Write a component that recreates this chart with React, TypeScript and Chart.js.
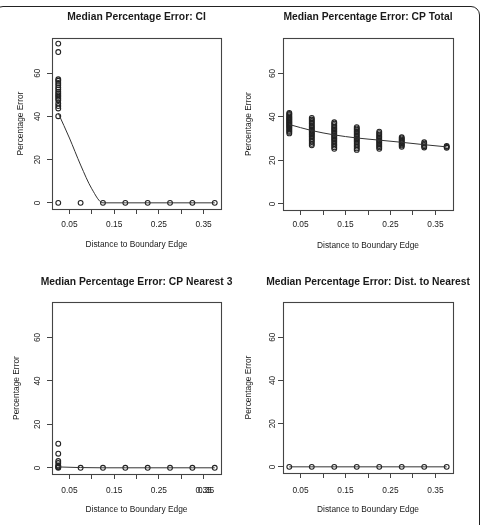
import React, { useEffect, useRef } from "react";
import { Chart, registerables } from "chart.js";

Chart.register(...registerables);

// ---------- data ----------
const distances = [0.025, 0.075, 0.125, 0.175, 0.225, 0.275, 0.325, 0.375];
const xTickValues = [0.05, 0.1, 0.15, 0.2, 0.25, 0.3, 0.35];
const xTickLabels = ["0.05", "", "0.15", "", "0.25", "", "0.35"];
const yTickValues = [0, 20, 40, 60];
const yTickLabels = ["0", "20", "40", "60"];

const titles = [
  "Median Percentage Error: CI",
  "Median Percentage Error: CP Total",
  "Median Percentage Error: CP Nearest 3",
  "Median Percentage Error: Dist. to Nearest",
];
const xAxisTitle = "Distance to Boundary Edge";
const yAxisTitle = "Percentage Error";

// observed values per distance bin
const ciValues = [
  [0, 40.1, 43.7, 44.8, 46, 47.5, 48.3, 49.1, 49.8, 50.6, 51.4, 52.5, 53.4, 54.5, 55.5, 56.5, 57.2, 69.8, 73.7],
  [0], [0], [0], [0], [0], [0], [0],
];
const cpTotalValues = [
  [32.4, 33.1, 33.6, 34.2, 34.8, 35.3, 35.7, 36.2, 36.6, 37.1, 37.5, 37.9, 38.4, 38.8, 39.3, 39.7, 40.2, 40.8, 41.3, 41.8],
  [26.9, 27.6, 28.4, 29.1, 29.8, 30.6, 31.2, 31.9, 32.5, 33.1, 33.6, 34.2, 34.9, 35.5, 36.1, 36.8, 37.4, 38.1, 38.8, 39.5],
  [25.3, 26, 26.8, 27.5, 28.3, 29, 29.7, 30.3, 31, 31.6, 32.2, 32.9, 33.5, 34.2, 34.8, 35.5, 36.2, 36.9, 37.5],
  [24.8, 25.5, 26.3, 27, 27.7, 28.4, 29, 29.6, 30.2, 30.8, 31.5, 32.1, 32.8, 33.4, 34.1, 34.7, 35.3],
  [25.3, 26, 26.6, 27.3, 28, 28.6, 29.2, 29.8, 30.5, 31.1, 31.8, 32.5, 33.2],
  [26.2, 26.8, 27.3, 27.9, 28.4, 29, 29.5, 30.1, 30.6],
  [25.9, 26.5, 27.1, 27.7, 28.3],
  [25.8, 26.2, 26.6],
];
const cpNearest3Values = [
  [0, 0.3, 0.6, 1.1, 2.2, 3.1, 6.5, 11.1],
  [0], [0], [0], [0], [0], [0], [0],
];
const distNearestValues = [[0], [0], [0], [0], [0], [0], [0], [0]];

// smoothed fit lines
const ciSmoothX = [0.025, 0.05, 0.075, 0.1, 0.125, 0.175, 0.225, 0.275, 0.325, 0.375];
const ciSmoothY = [41.5, 30, 17.5, 6.5, 0, 0, 0, 0, 0, 0];
const cpTotalSmoothY = [36.5, 33.7, 31.7, 30.3, 29.3, 28.3, 27.2, 26.2];
const cpNearest3SmoothY = [0.4, 0.1, 0, 0, 0, 0, 0, 0];
const distNearestSmoothY = [0, 0, 0, 0, 0, 0, 0, 0];

// overprinted tick label seen on the CP Nearest 3 panel
const overprintLabel = "0.35";
const overprintValue = 0.35;

const FONT = "'Liberation Sans', Arial, Helvetica, sans-serif";
const TEXT = "#1a1a1a";
const AXIS = "#444";

type Geo = {
  left: number; top: number; w: number; h: number;
  boxL: number; boxR: number; boxT: number; boxB: number;
  titleY: number; yTitleX: number; yTickX: number; xTickY: number; xTitleY: number;
  overprint?: boolean;
};

const boxPlugin = {
  id: "rbox",
  afterDraw(chart: any) {
    const { ctx, chartArea: a } = chart;
    ctx.save();
    ctx.strokeStyle = AXIS;
    ctx.lineWidth = 1.1;
    ctx.strokeRect(Math.round(a.left) + 0.5, Math.round(a.top) + 0.5, Math.round(a.right - a.left), Math.round(a.bottom - a.top));
    ctx.restore();
  },
};

function Panel({ geo, title, values, smoothX, smoothY }: { geo: Geo; title: string; values: number[][]; smoothX: number[]; smoothY: number[] }) {
  const ref = useRef<HTMLCanvasElement>(null);
  useEffect(() => {
    const pts: { x: number; y: number }[] = [];
    values.forEach((col, i) => col.forEach((v) => pts.push({ x: distances[i], y: v })));
    const line = smoothX.map((x, i) => ({ x, y: smoothY[i] }));
    const tickFs = 8.4;
    const lh = tickFs * 1.2;
    const widest = 9.3;
    const overprintPlugin = {
      id: "overprint",
      afterDraw(chart: any) {
        if (!geo.overprint) return;
        const { ctx } = chart;
        const sx = chart.scales.x;
        ctx.save();
        ctx.fillStyle = TEXT;
        ctx.font = `${tickFs}px ${FONT}`;
        ctx.textAlign = "center";
        ctx.textBaseline = "middle";
        ctx.fillText(overprintLabel, sx.getPixelForValue(overprintValue) + 2.5, geo.xTickY);
        ctx.restore();
      },
    };
    const chart = new Chart(ref.current!, {
      type: "scatter",
      data: {
        datasets: [
          {
            type: "line",
            data: line,
            borderColor: "#333",
            borderWidth: 1,
            pointRadius: 0,
            cubicInterpolationMode: "monotone",
            fill: false,
          } as any,
          {
            data: pts,
            pointStyle: "circle",
            pointRadius: 2.4,
            pointBorderWidth: 1.1,
            borderColor: "#222",
            backgroundColor: "rgba(0,0,0,0)",
            pointBackgroundColor: "rgba(0,0,0,0)",
            pointBorderColor: "#222",
          } as any,
        ],
      },
      options: {
        animation: false,
        responsive: false,
        events: [],
        layout: { padding: 0 },
        plugins: {
          legend: { display: false },
          tooltip: { enabled: false },
          title: {
            display: true,
            text: title,
            fullSize: true,
            color: TEXT,
            font: { family: FONT, size: 10.3, weight: "bold", lineHeight: 1.2 },
            padding: { top: geo.titleY - 6, bottom: geo.boxT - (geo.titleY - 6) - 12.36 },
          },
        },
        scales: {
          x: {
            type: "linear",
            min: 0.011,
            max: 0.389,
            afterBuildTicks: (s: any) => { s.ticks = xTickValues.map((v) => ({ value: v })); },
            afterFit: (s: any) => { s.height = geo.h - geo.boxB; },
            ticks: {
              autoSkip: false,
              maxRotation: 0,
              minRotation: 0,
              color: TEXT,
              font: { family: FONT, size: tickFs },
              padding: geo.xTickY - geo.boxB - 5 - lh / 2,
              callback: (v: any) => {
                const i = xTickValues.findIndex((t) => Math.abs(t - Number(v)) < 1e-6);
                return i >= 0 ? xTickLabels[i] : "";
              },
            },
            grid: { drawOnChartArea: false, drawTicks: true, tickLength: 5, color: AXIS },
            border: { display: false },
            title: {
              display: true,
              text: xAxisTitle,
              color: TEXT,
              font: { family: FONT, size: 8.4, lineHeight: 1.2 },
              padding: { top: 0, bottom: geo.h - 5 - geo.xTitleY },
            },
          },
          y: {
            type: "linear",
            position: "left",
            min: -2.85,
            max: 76.3,
            afterBuildTicks: (s: any) => { s.ticks = yTickValues.map((v) => ({ value: v })); },
            afterFit: (s: any) => { s.width = geo.boxL; },
            ticks: {
              autoSkip: false,
              minRotation: 90,
              maxRotation: 90,
              crossAlign: "center",
              color: TEXT,
              font: { family: FONT, size: tickFs },
              padding: geo.boxL - geo.yTickX - 5 - widest / 2,
              callback: (v: any) => {
                const i = yTickValues.indexOf(Number(v));
                return i >= 0 ? yTickLabels[i] : "";
              },
            },
            grid: { drawOnChartArea: false, drawTicks: true, tickLength: 5, color: AXIS },
            border: { display: false },
            title: {
              display: true,
              text: yAxisTitle,
              color: TEXT,
              font: { family: FONT, size: 8.4, lineHeight: 1.2 },
              padding: { top: geo.yTitleX - 5, bottom: 0 },
            },
          },
          // empty right-hand spacer so the panel title centres over the plot box
          spacer: {
            type: "linear",
            axis: "y",
            position: "right",
            display: true,
            min: 0,
            max: 1,
            afterFit: (s: any) => { s.width = geo.w - geo.boxR; },
            ticks: { display: false },
            grid: { display: false, drawTicks: false },
            border: { display: false },
            title: { display: false },
          },
        },
      } as any,
      plugins: [boxPlugin, overprintPlugin],
    });
    return () => chart.destroy();
  }, []);
  return (
    <canvas
      ref={ref}
      width={geo.w}
      height={geo.h}
      style={{ position: "absolute", left: geo.left, top: geo.top, width: geo.w, height: geo.h }}
    />
  );
}

// canvas widths chosen so the canvas centre sits over the plot box centre (for the title)
const geos: Geo[] = [
  { left: 0, top: 0, w: 273, h: 262, boxL: 52, boxR: 221, boxT: 38, boxB: 209, titleY: 17, yTitleX: 21, yTickX: 38, xTickY: 225, xTitleY: 245 },
  { left: 240, top: 0, w: 256, h: 262, boxL: 43, boxR: 213, boxT: 38, boxB: 210, titleY: 17, yTitleX: 8.5, yTickX: 33, xTickY: 225, xTitleY: 245.5 },
  { left: 0, top: 262, w: 273, h: 263, boxL: 52, boxR: 221, boxT: 40, boxB: 212, titleY: 20, yTitleX: 17, yTickX: 37.7, xTickY: 229, xTitleY: 248, overprint: true },
  { left: 240, top: 262, w: 256, h: 263, boxL: 43, boxR: 213, boxT: 40, boxB: 211, titleY: 20, yTitleX: 8.5, yTickX: 33, xTickY: 229, xTitleY: 248 },
];

export default function App() {
  return (
    <div style={{ position: "absolute", left: 0, top: 0, width: 488, height: 525, overflow: "hidden", background: "#fff" }}>
      <div
        style={{
          position: "absolute",
          left: -6,
          top: 6,
          width: 486,
          height: 600,
          border: "1.3px solid #222",
          borderRadius: 9,
          boxSizing: "border-box",
        }}
      />
      <Panel geo={geos[0]} title={titles[0]} values={ciValues} smoothX={ciSmoothX} smoothY={ciSmoothY} />
      <Panel geo={geos[1]} title={titles[1]} values={cpTotalValues} smoothX={distances} smoothY={cpTotalSmoothY} />
      <Panel geo={geos[2]} title={titles[2]} values={cpNearest3Values} smoothX={distances} smoothY={cpNearest3SmoothY} />
      <Panel geo={geos[3]} title={titles[3]} values={distNearestValues} smoothX={distances} smoothY={distNearestSmoothY} />
    </div>
  );
}
